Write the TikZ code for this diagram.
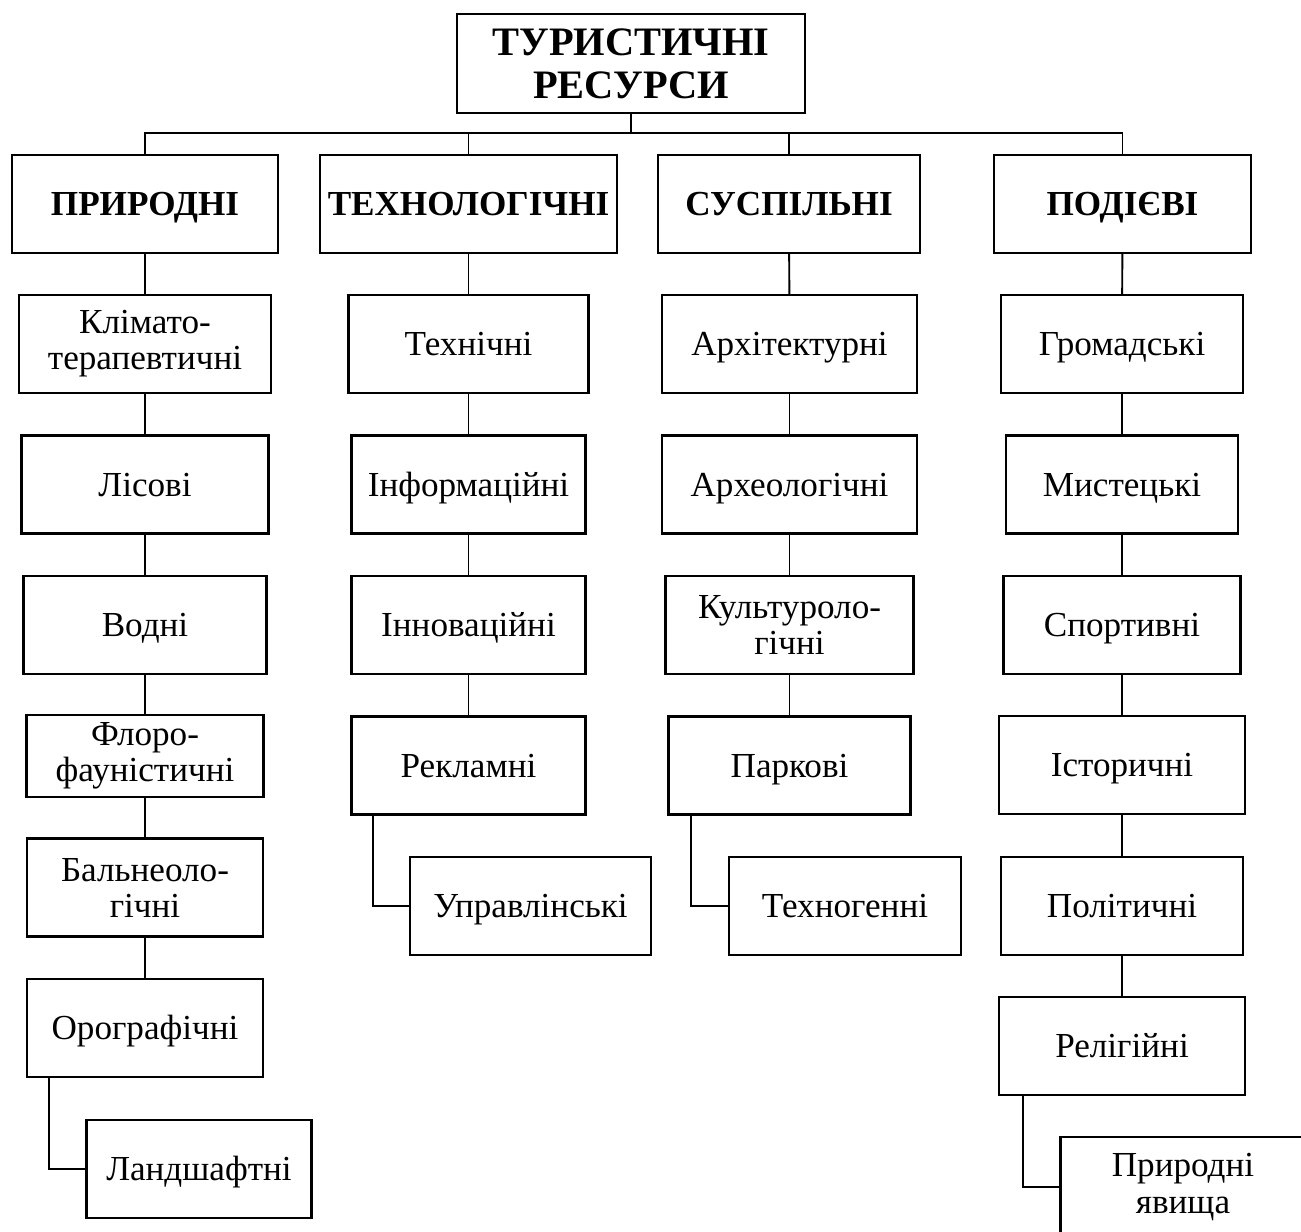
\documentclass[tikz,border=0pt]{standalone}
\usepackage{fontspec}
\setmainfont{Liberation Serif}
\usepackage{tikz}
\usetikzlibrary{calc, positioning}

\begin{document}
\begin{tikzpicture}[x=0.02cm, y=-0.02cm,
    cell/.style={draw, line width=1.3pt, align=center, inner sep=0pt,
      minimum height=1.96cm, font=\fontsize{20}{20.5}\selectfont},
    box/.style={cell, text height=13.2pt, text depth=0pt},
    head/.style={box, font=\bfseries\fontsize{20}{20.5}\selectfont},
    link/.style={line width=1.1pt}]

\useasboundingbox (0,0) rectangle (1301,1231);
\clip (0,0) rectangle (1301,1231);

% root
      \node[cell, minimum width=6.96cm, minimum height=1.98cm,
        font=\bfseries\fontsize{23}{24.4}\selectfont] (root) at (631,63.5) {ТУРИСТИЧНІ\\РЕСУРСИ};
      \coordinate (bus) at (631,133);

% groups
      \node[head, minimum width=5.32cm] (pryr) at (145,204) {ПРИРОДНІ};
      \node[head, minimum width=5.94cm] (tekh) at (468.5,204) {ТЕХНОЛОГІЧНІ};
      \node[head, minimum width=5.24cm] (susp) at (789,204) {СУСПІЛЬНІ};
      \node[head, minimum width=5.14cm] (podi) at (1122.5,204) {ПОДІЄВІ};

% natural
      \node[cell, minimum width=5.04cm] (klim) at (145,344) {Клімато-\\терапевтичні};
      \node[box, minimum width=4.94cm] (lis) at (145,484.5) {Лісові};
      \node[box, minimum width=4.86cm] (vod) at (145,625) {Водні};
      \node[cell, minimum width=4.74cm, minimum height=1.64cm] (flor) at (145,756) {Флоро-\\фауністичні};
      \node[cell, minimum width=4.72cm] (baln) at (145,887.5) {Бальнеоло-\\гічні};
      \node[box, minimum width=4.72cm] (oro) at (145,1028) {Орографічні};
      \node[box, minimum width=4.5cm] (land) at (199,1169) {Ландшафтні};

% technological
      \node[box, minimum width=4.8cm] (tekhn) at (468.5,344) {Технічні};
      \node[box, minimum width=4.68cm] (inf) at (468.5,484.5) {Інформаційні};
      \node[box, minimum width=4.68cm] (inn) at (468.5,625) {Інноваційні};
      \node[box, minimum width=4.68cm] (rekl) at (468.5,765.5) {Рекламні};
      \node[box, minimum width=4.82cm] (upr) at (530.5,906) {Управлінські};

% social
      \node[box, minimum width=5.1cm] (arkh) at (789.5,344) {Архітектурні};
      \node[box, minimum width=5.1cm] (arkheo) at (789.5,484.5) {Археологічні};
      \node[cell, minimum width=4.96cm] (kult) at (789.5,625) {Культуроло-\\гічні};
      \node[box, minimum width=4.84cm] (park) at (789.5,765.5) {Паркові};
      \node[box, minimum width=4.64cm] (tekhg) at (845,906) {Техногенні};

% events
      \node[box, minimum width=4.84cm] (grom) at (1122,344) {Громадські};
      \node[box, minimum width=4.64cm] (myst) at (1122,484.5) {Мистецькі};
      \node[box, minimum width=4.74cm] (sport) at (1122,625) {Спортивні};
      \node[box, minimum width=4.92cm] (ist) at (1122,765) {Історичні};
      \node[box, minimum width=4.84cm] (pol) at (1122,906) {Політичні};
      \node[box, minimum width=4.92cm] (rel) at (1122,1046) {Релігійні};
      \node[cell, minimum width=4.9cm, minimum height=2cm] (yav) at (1183,1187) {Природні\\явища};

% bus
      \draw[link] (root) -- (bus);
      \draw[link] (pryr.north) |- (bus) -| (podi.north);
      \draw[link] (tekh.north) -- (tekh.north |- bus);
      \draw[link] (susp.north) -- (susp.north |- bus);

% columns
      \foreach \a/\b in {pryr/klim, klim/lis, lis/vod, vod/flor, flor/baln, baln/oro,
                         tekh/tekhn, tekhn/inf, inf/inn, inn/rekl,
                         susp/arkh, arkh/arkheo, arkheo/kult, kult/park,
                         podi/grom, grom/myst, myst/sport, sport/ist, ist/pol, pol/rel}
        \draw[link] (\a) -- (\b);

% side branches
      \draw[link] ([xshift=0.46cm]oro.south west) |- (land.west);
      \draw[link] ([xshift=0.46cm]rekl.south west) |- (upr.west);
      \draw[link] ([xshift=0.48cm]park.south west) |- (tekhg.west);
      \draw[link] ([xshift=0.5cm]rel.south west) |- (yav.west);

    \end{tikzpicture}
\end{document}
